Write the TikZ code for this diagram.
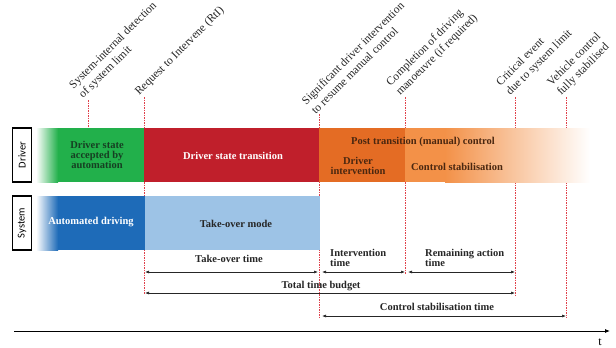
\documentclass[tikz,border=0pt]{standalone}
\usepackage{fontspec}
\setmainfont{Liberation Serif}
\newfontfamily\lanefont{Carlito}
\usetikzlibrary{arrows.meta}
\definecolor{cgreen}{HTML}{22B04B}
\definecolor{cred}{HTML}{C01F2B}
\definecolor{cblue}{HTML}{1E6BB8}
\definecolor{clblue}{HTML}{9DC3E6}
\definecolor{corange}{HTML}{E46C24}
\definecolor{clorange}{HTML}{F39148}
\definecolor{cdash}{HTML}{E0404A}
\definecolor{ctext}{HTML}{262626}
\definecolor{cdgreen}{HTML}{163F22}
\definecolor{cbrown}{HTML}{4A2710}
\begin{document}
\begin{tikzpicture}[x=1pt,y=-1pt,
  evline/.style={cdash, line width=0.6pt, dash pattern=on 1.5pt off 1pt},
  toplabel/.style={rotate=45, anchor=south west, align=left, font=\fontsize{11.5}{13.5}\selectfont, inner sep=0pt, text=ctext},
  bandtxt/.style={font=\bfseries\fontsize{10.5}{10}\selectfont, align=center, inner sep=1pt},
  lanebox/.style={draw=black, line width=1.2pt, fill=white, rotate=90, minimum width=54pt, minimum height=19pt, inner sep=0pt, font=\lanefont\fontsize{10.5}{10}\selectfont},
  dim/.style={{Latex[length=4pt,width=3pt]}-{Latex[length=4pt,width=3pt]}, line width=0.6pt, black!85},
  dimtxt/.style={font=\bfseries\fontsize{10.5}{10}\selectfont, text=ctext, inner sep=1pt}
]
\clip (0,0) rectangle (616,348);
\fill[white] (0,0) rectangle (616,348);

% event coordinates
\coordinate (e1t) at (88,100);  \coordinate (e1b) at (88,128);
\coordinate (e2t) at (144,97);  \coordinate (e2b) at (144,294);
\coordinate (e3t) at (319,114); \coordinate (e3b) at (319,318);
\coordinate (e4t) at (405,97);  \coordinate (e4b) at (405,274);
\coordinate (e5t) at (515,97);  \coordinate (e5b) at (515,295);
\coordinate (e6t) at (566,97);  \coordinate (e6b) at (566,318);

\foreach \i in {1,...,6} \draw[evline] (e\i t) -- (e\i b);

% top labels
\node[toplabel] (l1) at ([shift={(-3,1)}]e1t) {System-internal detection\\of system limit};
\node[toplabel] (l2) at ([shift={(-3,1)}]e2t) {Request to Intervene (RtI)};
\node[toplabel] (l3) at ([shift={(-3,1)}]e3t) {Significant driver intervention\\to resume manual control};
\node[toplabel] (l4) at ([shift={(-3,1)}]e4t) {Completion of driving\\manoeuvre (if required)};
\node[toplabel] (l5) at ([shift={(-3,1)}]e5t) {Critical event\\due to system limit};
\node[toplabel] (l6) at ([shift={(-3,1)}]e6t) {Vehicle control\\fully stabilised};

% lane labels
\node[lanebox] (driverbox) at (22,155) {Driver};
\node[lanebox] (systembox) at (22,223) {System};

% driver band
\shade[left color=white, right color=cgreen] (36,128) rectangle (58,182);
\fill[cgreen] (58,128) rectangle (144,182);
\fill[cred] (144,128) rectangle (319,182);
\fill[corange] (319,128) rectangle (405,182);
\fill[clorange] (405,128) rectangle (445,182);
\shade[left color=clorange, right color=white] (445,128) rectangle (590,182);

% system band
\shade[left color=white, right color=cblue] (36,196) rectangle (58,250);
\fill[cblue] (58,196) rectangle (145,250);
\fill[clblue] (145,196) rectangle (320,250);

% band texts
\node[bandtxt, text=cdgreen] (acc) at (97,155) {Driver state\\accepted by\\automation};
\node[bandtxt, text=white] (trans) at (233,156) {Driver state transition};
\node[bandtxt, text=cbrown] (post) at (423,142) {Post transition (manual) control};
\node[bandtxt, text=cbrown] (interv) at (358,166) {Driver\\intervention};
\node[bandtxt, text=cbrown] (stab) at (457,167) {Control stabilisation};
\node[bandtxt, text=white] (auto) at (91,222) {Automated driving};
\node[bandtxt, text=ctext] (tom) at (236,224) {Take-over mode};

% dimension arrows
\coordinate (a1) at (145,272); \coordinate (a2) at (318,272);
\coordinate (a3) at (322,272); \coordinate (a4) at (405,272);
\coordinate (a5) at (408,272); \coordinate (a6) at (515,272);
\coordinate (b1) at (145,293); \coordinate (b2) at (515,293);
\coordinate (c1) at (322,316); \coordinate (c2) at (566,316);
\draw[dim] (a1) -- (a2);
\draw[dim] (a3) -- (a4);
\draw[dim] (a5) -- (a6);
\draw[dim] (b1) -- (b2);
\draw[dim] (c1) -- (c2);

\node[dimtxt] (tot) at (229,259) {Take-over time};
\node[dimtxt, anchor=west, align=left] (itime) at (329,258) {Intervention\\time};
\node[dimtxt, anchor=west, align=left] (rtime) at (424,258) {Remaining action\\time};
\node[dimtxt] (ttb) at (321,286) {Total time budget};
\node[dimtxt] (cst) at (437,307) {Control stabilisation time};

% time axis
\coordinate (ax1) at (14,331); \coordinate (ax2) at (610,331);
\draw[-{Latex[length=5pt,width=4pt]}, line width=0.8pt] (ax1) -- (ax2);
\node[font=\fontsize{12}{12}\selectfont] (tlab) at (600,342) {t};
\end{tikzpicture}
\end{document}
